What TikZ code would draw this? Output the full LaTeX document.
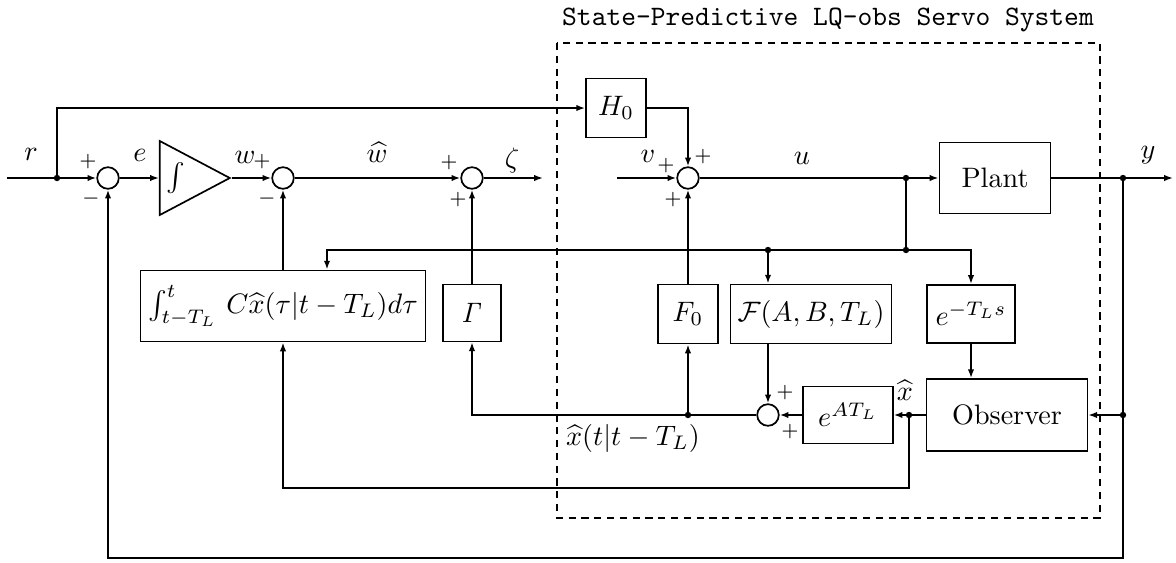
\documentclass[tikz,border=0pt]{standalone}
\usepackage{amsmath, amssymb}
\usetikzlibrary{positioning}
\usetikzlibrary{arrows.meta}
\usetikzlibrary{shapes.geometric}

\begin{document}
\begin{tikzpicture}[
        x=0.0125cm, y=-0.0125cm,
        line width=0.6pt,
        block/.style = {draw, inner sep=1pt},
        sum/.style = {circle, draw, minimum size=0.27cm, inner sep=0pt},
        integ/.style = {isosceles triangle, draw, isosceles triangle stretches,
                        minimum width=0.925cm, minimum height=0.875cm, inner sep=0pt},
        dot/.style = {circle, fill, inner sep=0pt, minimum size=0.8mm},
        arrow/.style = {-{Latex[length=1.1mm, width=0.8mm]}},
        sign/.style = {font=\scriptsize, inner sep=0pt},
        % frame of the servo system
        frame/.style = {dash pattern=on 0.9mm off 0.7mm}
    ]
    \useasboundingbox (0,0) rectangle (1176,562);

    % --- Blocks ---
    \node[block, minimum width=0.75cm, minimum height=0.74cm] (h0) at (616,108) {$H_0$};
    \node[block, minimum width=1.39cm, minimum height=0.89cm] (plant) at (995,178) {Plant};
    \node[block, minimum width=3.56cm, minimum height=0.89cm] (intg) at (283,306)
        {$\int_{t-T_L}^{t}\,C\widehat{x}(\tau|t-T_L)d\tau$};
    \node[block, minimum width=0.73cm, minimum height=0.71cm] (gam) at (472,313) {$\mathit{\Gamma}$};
    \node[block, minimum width=0.75cm, minimum height=0.74cm] (f0) at (688,314) {$F_0$};
    \node[block, minimum width=2.01cm, minimum height=0.74cm] (fcal) at (811,314) {$\mathcal{F}(A,B,T_L)$};
    \node[block, minimum width=1.1cm, minimum height=0.73cm] (ets) at (971,314) {$e^{-T_L s}$};
    \node[block, minimum width=1.12cm, minimum height=0.71cm] (eat) at (848,415) {$e^{AT_L}$};
    \node[block, minimum width=2.01cm, minimum height=0.9cm] (obs) at (1007,415) {Observer};
    \node[integ, anchor=apex] (int) at (232,178) {$\int$};

    % --- Summing points ---
    \node[sum] (sum1) at (108,178) {};
    \node[sum] (sum2) at (283,178) {};
    \node[sum] (sum3) at (472,178) {};
    \node[sum] (sum5) at (688,178) {};
    \node[sum] (sum4) at (768,415) {};

    % --- Points of the lines ---
    \coordinate (in) at (7,178);
    \coordinate (rsplit) at (57,178);
    \coordinate (zout) at (543,178);
    \coordinate (vin) at (617,178);
    \coordinate (uj) at (906,178);
    \coordinate (yj) at (1123,178);
    \coordinate (yout) at (1173,178);
    \coordinate (bus) at (906,250);
    \coordinate (busl) at (327,250);
    \coordinate (fdot) at (768,250);
    \coordinate (f0dot) at (688,415);
    \coordinate (xj) at (909,415);
    \coordinate (xl) at (909,488);
    \coordinate (oj) at (1123,415);
    \coordinate (ybot) at (1123,558);

    % --- Forward path ---
    \draw[arrow] (in) -- (sum1);
    \draw[arrow] (rsplit) |- (h0.west);
    \draw[arrow] (h0.east) -| (sum5.north);
    \draw[arrow] (sum1) -- (int);
    \draw[arrow] (int.apex) -- (sum2);
    \draw[arrow] (sum2) -- (sum3);
    \draw[arrow] (sum3) -- (zout);
    \draw[arrow] (vin) -- (sum5);
    \draw[arrow] (sum5) -- (plant);
    \draw[arrow] (plant) -- (yout);

    % --- Predictor ---
    \draw (uj) -- (bus);
    \draw[arrow] (bus) -- (busl) -- (busl |- intg.north);
    \draw[arrow] (bus) -| (ets.north);
    \draw[arrow] (fdot) -- (fdot |- fcal.north);
    \draw[arrow] (fcal.south -| sum4) -- (sum4);
    \draw[arrow] (ets) -- (ets |- obs.north);
    \draw[arrow] (obs) -- (eat);
    \draw[arrow] (eat) -- (sum4);
    \draw[arrow] (sum4) -| (gam.south);
    \draw[arrow] (f0dot) -- (f0.south);
    \draw[arrow] (xj) -- (xl) -| (intg.south);

    % --- Feedback ---
    \draw[arrow] (intg) -- (sum2);
    \draw[arrow] (gam) -- (sum3);
    \draw[arrow] (f0) -- (sum5);
    \draw[arrow] (oj) -- (obs.east);
    \draw[arrow] (yj) -- (ybot) -| (sum1.south);

    % --- Junctions ---
    \foreach \p in {rsplit, uj, yj, bus, fdot, f0dot, xj, oj}
        \node[dot] (d-\p) at (\p) {};

    % --- Signal labels ---
    \node (lr) at (31,154) {$r$};
    \node (le) at (140,155) {$e$};
    \node (lw) at (245,157) {$w$};
    \node (lwh) at (377,152) {$\widehat{w}$};
    \node (lz) at (512,160) {$\zeta$};
    \node (lv) at (648,156) {$v$};
    \node (lu) at (802,158) {$u$};
    \node (ly) at (1148,155) {$y$};
    \node (lxh) at (905,390) {$\widehat{x}$};
    \node (lxp) at (633,438) {$\widehat{x}(t|t-T_L)$};

    % --- Signs ---
    \node[sign] (s1a) at (88,162) {$+$};
    \node[sign] (s1b) at (91,199) {$-$};
    \node[sign] (s2a) at (262,162) {$+$};
    \node[sign] (s2b) at (267,199) {$-$};
    \node[sign] (s3a) at (449,163) {$+$};
    \node[sign] (s3b) at (458,200) {$+$};
    \node[sign] (s5a) at (666,166) {$+$};
    \node[sign] (s5b) at (703,157) {$+$};
    \node[sign] (s5c) at (673,200) {$+$};
    \node[sign] (s4a) at (785,393) {$+$};
    \node[sign] (s4b) at (790,432) {$+$};

    % --- Servo system frame ---
    \draw[frame] (557,43) rectangle (1100,518);
    \node[font=\ttfamily] (title) at (828,20) {State-Predictive LQ-obs Servo System};

\end{tikzpicture}
\end{document}
